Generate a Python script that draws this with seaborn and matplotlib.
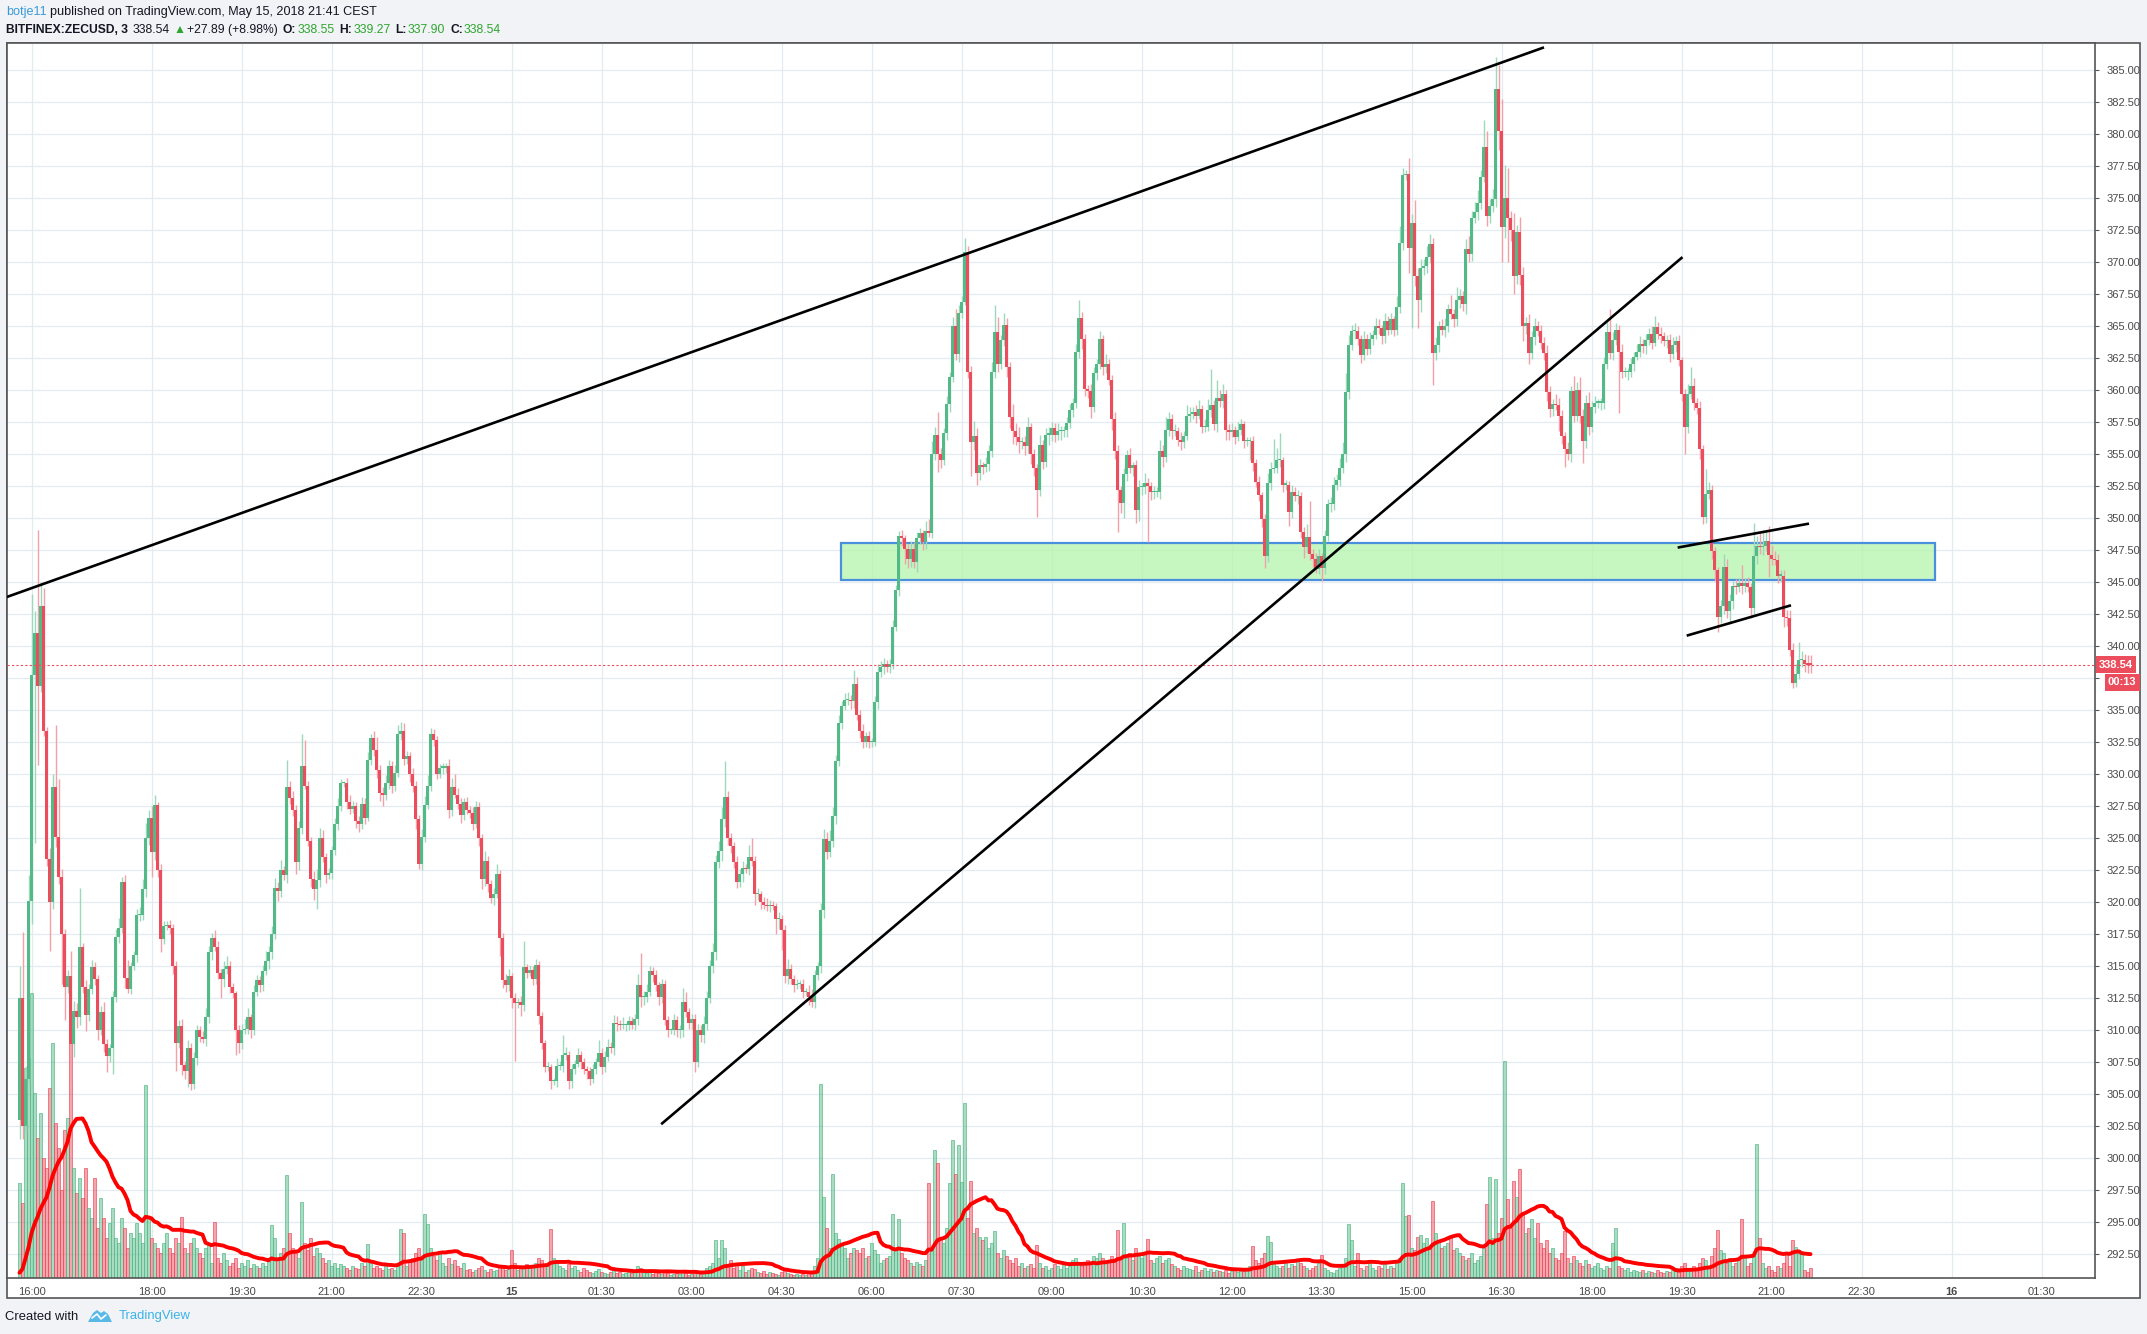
import numpy as np
import pandas as pd
import matplotlib
matplotlib.use("Agg")
import matplotlib.pyplot as plt
import matplotlib.dates as mdates
import matplotlib.patches as mpatches
import matplotlib.transforms as mtransforms
import seaborn as sns

W, H = 2147, 1334

# BITFINEX:ZECUSD, 3 minute candles from 2018-05-14 15:48
first_open = 303.0
closes = [
    312.5, 302.5, 306.2, 320.1, 337.7, 341.0, 336.9, 343.1, 333.4, 323.4,
    320.0, 329.0, 325.1, 322.0, 317.5, 313.4, 314.2, 308.9, 311.5, 311.0,
    316.5, 313.4, 311.2, 313.2, 314.9, 314.0, 310.0, 311.4, 308.9, 308.0,
    308.6, 312.6, 317.3, 318.0, 321.6, 314.1, 313.2, 315.0, 315.9, 319.0,
    319.0, 321.0, 325.0, 326.6, 323.9, 327.6, 322.5, 317.1, 318.1, 318.2,
    318.0, 315.0, 309.0, 310.3, 307.3, 306.8, 308.6, 305.8, 307.8, 310.0,
    309.5, 309.3, 311.0, 316.1, 317.2, 316.5, 314.5, 314.0, 314.8, 315.0,
    313.4, 312.9, 310.0, 309.0, 310.0, 310.1, 311.0, 310.0, 313.0, 313.9,
    313.5, 314.6, 315.4, 316.1, 317.5, 321.1, 320.9, 322.5, 322.1, 329.0,
    328.1, 327.2, 323.1, 325.8, 330.6, 329.1, 324.8, 321.8, 321.0, 321.7,
    325.0, 323.5, 322.1, 322.3, 324.1, 326.1, 327.5, 329.3, 329.3, 327.8,
    327.3, 327.5, 326.3, 326.1, 327.7, 326.6, 331.1, 332.8, 331.9, 330.3,
    328.5, 328.4, 329.3, 330.6, 329.1, 330.1, 333.1, 333.4, 331.2, 331.4,
    330.0, 329.1, 326.5, 323.0, 325.1, 327.6, 329.1, 333.1, 332.7, 330.0,
    330.5, 330.5, 330.6, 327.2, 329.0, 328.4, 327.7, 326.8, 327.8, 327.2,
    327.0, 326.1, 327.4, 325.0, 321.8, 323.2, 321.4, 320.3, 320.6, 322.2,
    317.2, 313.9, 313.5, 314.2, 312.5, 312.1, 312.2, 312.0, 314.9, 314.5,
    314.7, 314.0, 315.1, 311.1, 309.0, 307.1, 307.1, 306.0, 306.0, 307.2,
    307.2, 308.1, 308.1, 306.0, 307.0, 307.4, 308.1, 307.5, 307.0, 306.8,
    306.2, 307.0, 307.5, 308.2, 307.1, 307.9, 308.7, 308.6, 310.6, 310.5,
    310.4, 310.4, 310.4, 310.7, 310.4, 310.9, 313.5, 312.6, 312.6, 313.0,
    314.6, 314.3, 313.5, 312.6, 313.6, 310.8, 310.0, 310.0, 310.8, 310.0,
    310.0, 312.2, 311.4, 310.6, 310.9, 307.5, 310.0, 309.6, 310.5, 312.5,
    315.0, 316.1, 323.1, 324.0, 326.5, 328.2, 325.0, 324.4, 323.1, 321.6,
    322.2, 322.7, 322.6, 323.5, 323.2, 320.6, 320.6, 320.0, 319.8, 319.7,
    319.8, 319.7, 318.7, 318.7, 317.8, 314.2, 314.8, 314.0, 313.5, 313.6,
    313.6, 313.0, 313.0, 312.6, 312.2, 314.3, 315.0, 319.4, 324.9, 323.9,
    324.8, 326.7, 331.0, 334.0, 335.3, 335.8, 335.8, 335.7, 337.0, 334.6,
    333.4, 332.5, 333.0, 332.5, 332.5, 335.6, 338.0, 338.4, 338.6, 338.4,
    338.6, 341.5, 344.4, 348.6, 348.4, 347.6, 346.8, 347.6, 346.6, 348.4,
    348.8, 348.1, 349.0, 348.8, 355.0, 356.5, 355.0, 354.5, 356.6, 358.9,
    361.0, 365.0, 362.8, 366.0, 366.9, 370.8, 361.4, 355.9, 356.4, 353.5,
    354.1, 354.0, 354.2, 355.2, 361.4, 364.5, 362.0, 363.9, 365.1, 361.8,
    357.9, 356.8, 356.3, 355.9, 355.9, 355.6, 357.1, 355.0, 353.9, 352.2,
    355.7, 354.4, 356.5, 356.5, 357.0, 356.5, 356.8, 356.8, 356.9, 357.4,
    358.4, 359.0, 363.0, 365.6, 364.0, 360.1, 359.9, 358.7, 361.3, 362.0,
    364.0, 361.8, 362.0, 360.8, 357.7, 355.2, 352.2, 351.2, 353.4, 354.9,
    353.9, 354.1, 350.6, 352.4, 352.4, 352.7, 352.5, 352.0, 352.0, 352.0,
    355.2, 354.8, 356.9, 357.7, 356.8, 356.8, 356.1, 355.9, 356.4, 358.0,
    358.1, 358.3, 358.0, 358.5, 357.1, 357.1, 358.4, 358.8, 357.3, 359.4,
    359.1, 359.7, 356.9, 356.7, 356.9, 356.3, 356.9, 357.3, 356.0, 356.0,
    356.0, 354.3, 352.8, 351.8, 349.9, 347.0, 352.7, 353.8, 353.9, 354.5,
    354.5, 352.6, 352.6, 350.5, 352.0, 351.7, 351.7, 348.9, 347.7, 348.5,
    347.2, 346.8, 346.0, 347.0, 346.1, 348.6, 351.1, 351.1, 352.6, 353.0,
    353.9, 355.0, 359.8, 363.5, 364.6, 364.6, 364.0, 362.7, 364.0, 363.2,
    364.0, 364.3, 365.0, 364.8, 364.2, 365.4, 364.7, 365.5, 364.7, 366.5,
    371.5, 376.8, 376.9, 371.1, 373.0, 368.9, 367.0, 369.5, 369.7, 370.4,
    371.4, 362.9, 363.5, 365.0, 364.7, 365.0, 366.3, 365.9, 365.5, 367.0,
    367.3, 366.7, 371.0, 370.6, 373.4, 373.9, 374.6, 376.6, 379.0, 373.6,
    374.4, 374.9, 383.5, 380.2, 372.7, 375.0, 373.4, 372.5, 368.9, 372.3,
    369.0, 365.0, 365.2, 362.9, 364.1, 365.0, 364.6, 363.7, 362.9, 359.8,
    358.5, 358.9, 358.8, 358.0, 356.4, 355.4, 355.0, 359.9, 358.0, 360.0,
    358.0, 356.0, 359.0, 357.1, 358.7, 359.0, 359.0, 359.0, 362.0, 364.5,
    362.9, 363.9, 364.7, 363.0, 361.4, 361.4, 361.4, 362.0, 362.6, 363.0,
    363.6, 363.4, 363.9, 364.4, 363.7, 364.9, 364.4, 364.2, 363.8, 363.9,
    362.8, 363.5, 363.8, 362.3, 359.7, 357.1, 359.7, 360.3, 359.0, 358.6,
    355.4, 350.1, 351.9, 352.2, 347.4, 345.9, 342.3, 343.1, 346.2, 342.7,
    343.5, 344.7, 344.6, 344.9, 344.7, 344.9, 344.6, 343.0, 347.0, 347.8,
    347.7, 347.8, 348.2, 347.1, 346.8, 346.7, 345.5, 345.5, 342.3, 342.2,
    339.7, 337.1, 337.8, 338.9, 338.9, 338.6, 338.55, 338.54,
]

# wick length above / below the candle body
wick_hi = [
    2.5, 5.2, 1.0, 2.0, 6.4, 1.7, 8.1, 1.9, 1.4, 0.3,
    0.8, 1.0, 4.8, 4.5, 0.6, 0.4, 0.5, 2.0, 0.8, 0.6,
    4.6, 0.3, 0.5, 0.4, 0.6, 0.4, 0.3, 0.5, 0.8, 0.4,
    0.3, 0.5, 0.6, 0.8, 0.4, 0.5, 1.4, 0.3, 0.3, 0.5,
    0.6, 0.8, 1.2, 0.6, 0.9, 0.8, 0.2, 0.5, 0.4, 0.3,
    0.4, 0.3, 0.4, 0.5, 0.6, 0.3, 0.6, 0.4, 0.5, 0.4,
    0.3, 0.4, 0.7, 0.5, 0.4, 0.6, 0.5, 0.3, 0.6, 0.8,
    0.4, 0.3, 0.2, 0.4, 0.5, 0.8, 0.7, 0.3, 0.5, 0.4,
    0.3, 0.5, 0.8, 0.5, 0.6, 0.8, 0.5, 0.8, 0.3, 2.1,
    0.5, 0.6, 0.4, 0.5, 2.5, 2.1, 0.4, 0.3, 0.6, 0.9,
    0.8, 0.6, 0.3, 0.4, 0.3, 0.5, 0.6, 0.3, 0.2, 0.4,
    0.6, 0.4, 0.3, 0.4, 0.5, 0.4, 0.6, 0.3, 0.6, 1.0,
    0.4, 0.5, 0.6, 0.5, 0.4, 0.6, 0.7, 0.7, 0.6, 0.4,
    0.3, 0.5, 0.4, 0.3, 0.6, 0.7, 0.8, 0.5, 0.4, 0.3,
    0.3, 0.4, 0.3, 0.6, 0.7, 1.0, 0.5, 0.4, 0.3, 0.4,
    0.3, 0.4, 0.5, 0.4, 0.3, 0.8, 0.4, 0.3, 0.5, 0.8,
    0.3, 0.4, 0.5, 0.6, 0.3, 0.4, 0.3, 0.5, 2.1, 0.3,
    0.4, 0.3, 0.5, 0.3, 0.3, 0.2, 0.4, 0.3, 0.3, 0.6,
    0.4, 1.5, 0.6, 0.3, 0.4, 0.3, 0.5, 0.3, 0.3, 0.2,
    0.3, 0.4, 0.3, 1.0, 0.4, 0.5, 0.6, 0.4, 0.6, 0.5,
    0.3, 0.6, 0.2, 0.4, 0.3, 0.4, 0.9, 2.5, 0.5, 0.6,
    0.4, 0.3, 0.4, 0.3, 0.4, 0.3, 0.3, 0.2, 0.5, 0.3,
    0.4, 1.1, 0.8, 0.3, 0.4, 0.4, 0.5, 0.4, 0.6, 0.6,
    0.5, 0.7, 0.6, 0.8, 0.9, 2.8, 0.5, 0.4, 0.3, 0.5,
    0.4, 0.5, 0.3, 1.0, 1.5, 0.4, 0.5, 0.3, 0.4, 0.5,
    0.4, 0.3, 0.2, 0.5, 0.3, 0.4, 0.8, 0.4, 0.3, 0.4,
    0.3, 0.4, 0.3, 0.5, 0.6, 0.4, 0.3, 0.5, 0.8, 0.6,
    0.8, 0.7, 0.5, 0.6, 0.4, 0.5, 0.6, 0.4, 1.1, 0.6,
    0.4, 0.5, 0.3, 0.4, 0.3, 0.5, 0.6, 0.4, 0.5, 0.3,
    0.4, 0.5, 0.4, 0.4, 0.5, 0.3, 0.4, 0.6, 0.5, 0.5,
    0.4, 0.3, 0.8, 0.9, 1.0, 0.6, 1.8, 0.5, 0.4, 0.6,
    0.4, 0.7, 1.3, 0.6, 0.4, 1.1, 0.4, 0.5, 1.2, 0.6,
    0.5, 0.3, 0.6, 0.5, 0.8, 2.1, 1.2, 0.4, 0.9, 0.5,
    0.4, 1.0, 0.6, 0.8, 0.4, 0.5, 0.8, 0.3, 0.4, 0.3,
    0.8, 0.4, 0.5, 0.6, 0.5, 0.4, 0.6, 0.4, 0.3, 0.5,
    0.5, 0.4, 0.6, 1.4, 0.5, 0.4, 0.3, 0.6, 0.5, 0.4,
    0.6, 0.3, 0.8, 0.4, 0.4, 0.6, 0.5, 0.3, 0.5, 0.4,
    0.6, 0.3, 0.4, 0.6, 0.3, 0.8, 0.4, 0.3, 0.5, 0.4,
    0.9, 0.5, 1.0, 0.6, 0.4, 0.5, 0.3, 0.6, 0.4, 0.8,
    0.6, 0.4, 0.5, 0.7, 0.3, 0.6, 0.9, 2.8, 0.4, 1.4,
    0.6, 0.8, 0.3, 0.4, 0.5, 0.3, 0.6, 0.4, 0.3, 0.3,
    0.3, 0.4, 0.3, 0.5, 0.2, 0.4, 0.8, 0.6, 2.3, 1.0,
    2.1, 0.3, 0.4, 0.3, 0.6, 0.4, 0.5, 0.3, 0.4, 1.0,
    2.8, 0.4, 0.5, 0.6, 0.3, 0.5, 0.4, 0.5, 0.6, 0.4,
    0.8, 0.9, 1.5, 0.8, 0.5, 0.6, 0.4, 0.3, 0.6, 0.4,
    0.5, 0.4, 0.6, 0.5, 0.3, 0.6, 0.4, 0.5, 0.3, 0.8,
    1.3, 0.5, 0.3, 1.2, 0.7, 1.8, 0.6, 0.7, 0.5, 0.8,
    0.8, 0.5, 0.6, 0.4, 0.5, 0.6, 0.4, 1.1, 0.4, 1.0,
    0.6, 0.4, 0.8, 1.0, 0.6, 0.8, 1.0, 0.6, 2.1, 1.2,
    0.5, 0.8, 2.5, 1.9, 2.5, 2.6, 2.3, 0.6, 1.3, 0.6,
    1.2, 0.6, 0.5, 0.7, 0.5, 0.6, 0.4, 0.5, 0.4, 0.6,
    0.5, 0.4, 0.8, 0.6, 0.4, 0.3, 0.5, 0.4, 1.2, 0.6,
    1.0, 0.5, 0.6, 0.8, 0.4, 0.5, 0.3, 0.4, 0.6, 0.8,
    1.8, 0.6, 0.5, 0.4, 0.6, 0.4, 0.3, 0.5, 0.4, 0.6,
    0.6, 0.4, 0.5, 0.4, 0.6, 0.9, 0.4, 0.5, 0.3, 0.4,
    0.5, 0.6, 0.4, 0.5, 0.3, 0.4, 0.8, 1.5, 0.6, 0.4,
    0.5, 0.3, 1.9, 0.6, 0.4, 0.3, 0.3, 0.5, 1.0, 0.6,
    0.6, 0.4, 0.5, 0.4, 1.4, 0.4, 0.5, 0.3, 2.6, 0.8,
    1.0, 1.3, 0.9, 1.2, 0.8, 0.6, 0.5, 0.4, 0.4, 0.5,
    0.6, 0.5, 0.8, 1.4, 0.7, 0.5, 0.7, 0.72,
]
wick_lo = [
    1.5, 1.0, 0.5, 0.5, 1.8, 13.1, 6.2, 0.5, 0.4, 0.6,
    3.8, 0.5, 0.8, 0.6, 3.9, 2.6, 0.5, 2.9, 1.0, 0.8,
    0.6, 0.5, 1.3, 0.5, 0.4, 0.5, 0.8, 0.4, 0.6, 1.3,
    0.5, 2.0, 0.4, 0.5, 0.4, 0.8, 0.3, 0.4, 0.3, 0.6,
    0.5, 0.4, 0.6, 0.5, 1.9, 0.6, 0.5, 1.0, 0.4, 0.3,
    0.5, 0.6, 2.2, 0.4, 0.8, 0.6, 1.2, 0.5, 0.4, 0.5,
    0.4, 0.3, 0.5, 0.4, 0.6, 0.3, 0.5, 1.5, 0.6, 0.4,
    0.5, 0.4, 1.9, 0.8, 0.5, 0.3, 0.4, 0.6, 0.4, 0.3,
    0.5, 0.4, 0.3, 0.6, 0.5, 0.4, 0.8, 0.5, 0.4, 0.6,
    0.4, 0.5, 0.9, 0.6, 0.5, 0.3, 0.4, 0.6, 0.8, 1.5,
    0.5, 0.4, 0.6, 0.3, 0.5, 0.4, 0.5, 0.4, 0.3, 0.5,
    0.4, 0.3, 0.5, 0.6, 0.4, 0.5, 0.3, 0.4, 0.5, 0.6,
    0.6, 0.9, 0.4, 0.5, 0.6, 0.4, 0.3, 0.4, 0.5, 0.4,
    0.6, 0.5, 0.8, 0.4, 0.5, 0.4, 0.3, 0.4, 0.5, 0.4,
    0.3, 0.5, 0.4, 0.6, 0.5, 0.3, 0.4, 0.6, 0.4, 0.3,
    0.4, 0.5, 0.3, 0.6, 0.8, 0.5, 0.6, 0.4, 0.5, 0.3,
    1.4, 0.6, 0.5, 0.4, 0.8, 4.5, 0.4, 0.9, 0.5, 0.4,
    0.3, 0.5, 0.4, 0.6, 0.5, 0.4, 0.3, 0.6, 0.3, 0.4,
    0.3, 0.5, 0.4, 0.6, 0.5, 0.4, 0.3, 0.5, 0.4, 0.6,
    0.5, 0.3, 0.4, 0.3, 0.5, 0.4, 0.3, 0.4, 0.5, 0.6,
    0.4, 0.3, 0.5, 0.4, 0.3, 0.4, 0.5, 0.8, 0.6, 0.4,
    0.3, 0.5, 0.4, 0.6, 0.5, 0.4, 0.5, 0.3, 0.4, 0.5,
    0.6, 0.5, 0.4, 0.5, 0.6, 0.8, 0.4, 0.5, 0.6, 0.5,
    0.4, 0.5, 0.6, 0.4, 0.8, 0.6, 0.5, 0.6, 0.4, 0.5,
    0.4, 0.6, 0.3, 0.5, 0.4, 0.8, 0.4, 0.5, 0.3, 0.4,
    0.5, 0.3, 1.2, 0.8, 1.5, 0.5, 0.6, 0.4, 0.5, 0.3,
    0.4, 0.5, 0.3, 0.6, 0.4, 0.5, 0.4, 0.5, 0.6, 0.5,
    0.4, 0.5, 0.6, 0.4, 0.5, 0.3, 0.4, 0.6, 0.5, 0.4,
    0.6, 0.5, 0.4, 0.5, 0.4, 0.3, 0.5, 0.4, 0.6, 0.4,
    0.5, 0.4, 0.3, 0.5, 0.6, 1.2, 0.7, 0.6, 0.5, 0.8,
    0.4, 0.6, 0.5, 0.3, 0.4, 0.5, 1.4, 0.6, 0.4, 0.5,
    0.6, 0.4, 0.5, 0.6, 0.4, 0.3, 0.5, 2.6, 0.6, 0.9,
    0.5, 0.6, 0.4, 0.5, 0.4, 0.5, 0.6, 0.4, 0.5, 0.8,
    0.9, 1.0, 0.6, 0.8, 0.5, 0.7, 0.5, 0.8, 0.6, 2.1,
    0.5, 0.6, 0.4, 0.8, 0.5, 0.6, 0.4, 0.7, 0.5, 0.6,
    0.4, 0.5, 0.4, 0.5, 0.8, 0.6, 0.5, 0.9, 0.4, 0.5,
    0.4, 0.6, 0.5, 0.4, 0.8, 0.6, 3.3, 0.8, 1.2, 0.5,
    0.4, 0.6, 1.0, 0.8, 0.6, 0.5, 4.4, 0.6, 0.5, 0.4,
    0.5, 0.8, 0.4, 0.5, 0.6, 0.4, 0.5, 0.6, 0.4, 0.3,
    0.5, 0.4, 0.6, 0.3, 0.5, 0.4, 0.3, 0.5, 0.4, 0.6,
    0.4, 0.5, 0.8, 0.6, 0.4, 0.5, 0.3, 0.4, 0.5, 0.4,
    1.5, 0.6, 0.4, 0.5, 0.6, 0.9, 0.4, 0.5, 0.3, 0.4,
    0.5, 0.6, 0.4, 1.1, 0.5, 0.4, 0.6, 0.5, 0.8, 0.4,
    0.5, 0.6, 0.3, 0.4, 1.0, 0.5, 0.4, 0.6, 0.5, 0.4,
    0.5, 0.4, 0.6, 0.5, 0.4, 0.6, 0.5, 0.6, 0.4, 0.5,
    0.4, 0.5, 0.3, 0.4, 0.6, 0.5, 0.4, 0.3, 0.5, 0.4,
    0.5, 0.6, 0.4, 2.0, 6.3, 0.8, 2.2, 0.9, 0.5, 0.6,
    0.5, 2.5, 0.6, 0.5, 0.4, 0.6, 0.5, 0.4, 0.6, 0.5,
    0.6, 0.5, 0.8, 0.6, 0.5, 0.4, 0.6, 0.5, 0.4, 0.8,
    0.6, 0.5, 0.6, 1.5, 2.7, 0.8, 3.4, 0.9, 1.4, 0.6,
    0.8, 1.2, 0.6, 0.9, 0.5, 0.6, 0.4, 0.5, 0.6, 0.7,
    0.6, 0.5, 0.4, 1.2, 0.6, 1.4, 0.5, 0.6, 0.5, 0.4,
    0.6, 1.7, 0.5, 0.6, 0.4, 0.5, 0.4, 0.6, 0.5, 0.4,
    0.5, 0.6, 0.4, 4.8, 0.5, 0.4, 0.6, 0.4, 0.5, 0.3,
    0.4, 0.5, 0.6, 0.4, 0.5, 0.3, 0.4, 0.5, 0.4, 0.5,
    0.6, 0.4, 0.5, 0.4, 0.6, 2.1, 0.5, 0.4, 0.6, 0.5,
    0.8, 0.6, 0.5, 0.4, 0.6, 0.8, 1.2, 0.5, 0.6, 0.5,
    1.0, 0.6, 0.5, 0.4, 0.6, 0.5, 0.4, 0.8, 0.5, 0.6,
    0.5, 0.6, 0.4, 1.7, 0.5, 0.4, 0.6, 0.5, 0.8, 0.6,
    0.5, 0.4, 0.3, 0.4, 0.5, 0.6, 0.65, 0.64,
]

# volume per candle (relative units)
volumes = [
    95, 75, 210, 220, 285, 185, 140, 165, 120, 110, 190, 235, 155, 130, 88, 148, 160, 265, 110, 85,
    100, 80, 110, 70, 60, 100, 50, 80, 60, 40, 55, 70, 40, 35, 60, 50, 30, 45, 40, 55,
    45, 35, 193, 60, 40, 35, 30, 25, 35, 45, 30, 25, 40, 35, 61, 30, 25, 35, 40, 30,
    25, 20, 30, 35, 15, 56, 20, 15, 25, 18, 12, 15, 20, 10, 15, 12, 18, 10, 14, 12,
    10, 15, 12, 20, 53, 40, 18, 25, 30, 103, 45, 30, 25, 20, 76, 35, 28, 40, 22, 30,
    25, 20, 15, 18, 12, 15, 10, 14, 12, 10, 8, 12, 10, 9, 15, 12, 34, 18, 10, 12,
    10, 8, 12, 9, 10, 8, 15, 49, 45, 12, 18, 20, 25, 30, 20, 64, 54, 30, 22, 18,
    25, 15, 12, 20, 14, 18, 12, 10, 15, 8, 9, 6, 8, 10, 12, 8, 6, 9, 7, 8,
    12, 10, 8, 9, 28, 15, 8, 10, 12, 14, 10, 12, 15, 20, 18, 14, 12, 49, 20, 15,
    12, 10, 8, 14, 10, 12, 8, 6, 10, 8, 6, 5, 7, 9, 6, 5, 4, 6, 8, 5,
    6, 4, 5, 7, 5, 6, 12, 10, 6, 5, 8, 4, 6, 5, 4, 7, 5, 3, 4, 5,
    4, 6, 5, 3, 4, 8, 5, 4, 6, 10, 12, 15, 38, 20, 38, 30, 12, 18, 10, 14,
    8, 12, 6, 8, 10, 9, 6, 5, 7, 4, 6, 5, 4, 3, 6, 8, 5, 4, 3, 4,
    3, 4, 3, 5, 6, 12, 20, 194, 81, 50, 30, 104, 45, 39, 35, 30, 20, 25, 30, 28,
    25, 30, 20, 22, 35, 28, 24, 15, 18, 20, 22, 64, 30, 59, 25, 20, 18, 15, 12, 16,
    14, 12, 18, 95, 30, 128, 115, 40, 35, 50, 95, 138, 104, 133, 96, 175, 60, 97, 45, 50,
    41, 38, 41, 30, 35, 47, 25, 20, 28, 22, 18, 15, 20, 12, 15, 10, 12, 14, 10, 33,
    15, 10, 12, 8, 10, 14, 12, 9, 15, 10, 12, 18, 20, 15, 12, 14, 18, 16, 22, 20,
    25, 20, 15, 18, 22, 18, 48, 20, 55, 20, 25, 18, 30, 22, 20, 25, 39, 18, 15, 20,
    22, 15, 18, 20, 14, 12, 10, 8, 12, 10, 9, 8, 12, 6, 8, 10, 7, 9, 6, 8,
    7, 6, 8, 5, 7, 9, 6, 8, 7, 10, 12, 32, 18, 15, 20, 25, 42, 36, 15, 12,
    10, 12, 15, 10, 14, 12, 18, 15, 12, 10, 8, 10, 12, 15, 23, 10, 8, 6, 5, 8,
    10, 12, 20, 54, 38, 12, 25, 10, 8, 12, 15, 10, 8, 12, 10, 14, 9, 12, 10, 15,
    20, 95, 62, 63, 30, 28, 41, 43, 35, 40, 30, 77, 45, 38, 30, 32, 35, 40, 28, 30,
    25, 22, 18, 20, 25, 15, 18, 22, 30, 74, 101, 40, 99, 45, 60, 217, 79, 50, 97, 81,
    109, 66, 45, 50, 59, 40, 55, 35, 30, 38, 25, 30, 20, 18, 25, 47, 20, 15, 22, 18,
    15, 12, 18, 14, 10, 12, 15, 10, 8, 12, 10, 35, 50, 12, 10, 8, 10, 6, 8, 7,
    6, 8, 5, 7, 6, 5, 8, 6, 5, 7, 6, 8, 10, 6, 12, 15, 10, 8, 12, 10,
    15, 20, 18, 12, 22, 30, 48, 28, 25, 15, 20, 12, 15, 18, 59, 20, 12, 15, 22, 134,
    40, 15, 10, 12, 8, 6, 12, 10, 15, 25, 12, 38, 31, 28, 25, 8, 6, 10,
]

tick_times = [
    "2018-05-14 16:00", "2018-05-14 18:00", "2018-05-14 19:30", "2018-05-14 21:00",
    "2018-05-14 22:30", "2018-05-15 00:00", "2018-05-15 01:30", "2018-05-15 03:00",
    "2018-05-15 04:30", "2018-05-15 06:00", "2018-05-15 07:30", "2018-05-15 09:00",
    "2018-05-15 10:30", "2018-05-15 12:00", "2018-05-15 13:30", "2018-05-15 15:00",
    "2018-05-15 16:30", "2018-05-15 18:00", "2018-05-15 19:30", "2018-05-15 21:00",
    "2018-05-15 22:30", "2018-05-16 00:00", "2018-05-16 01:30",
]
tick_labels = [
    "16:00", "18:00", "19:30", "21:00", "22:30", "15", "01:30", "03:00", "04:30",
    "06:00", "07:30", "09:00", "10:30", "12:00", "13:30", "15:00", "16:30", "18:00",
    "19:30", "21:00", "22:30", "16", "01:30",
]

# drawings on the chart: trend lines and the support zone
trend_lines = [
    ("2018-05-14 15:35:18", 343.83, "2018-05-15 17:12:30", 386.75),
    ("2018-05-15 02:29:40", 302.66, "2018-05-15 19:31:00", 370.37),
    ("2018-05-15 19:26:10", 347.69, "2018-05-15 21:37:30", 349.56),
    ("2018-05-15 19:35:10", 340.81, "2018-05-15 21:19:30", 343.18),
]
zone_start, zone_end = "2018-05-15 05:29", "2018-05-15 23:43"
zone_low, zone_high = 345.15, 348.05

GREEN, RED = "#53b987", "#eb4d5c"
TXT = "#131722"

sns.set_style("white")
plt.rcParams["font.family"] = ["Liberation Sans", "DejaVu Sans"]

c = np.array(closes)
o = np.r_[first_open, c[:-1]]
hi = np.maximum(o, c) + np.array(wick_hi)
lo = np.minimum(o, c) - np.array(wick_lo)
up = c >= o
times = pd.date_range("2018-05-14 15:48", periods=len(c), freq="3min")
x = mdates.date2num(times)
day_min = 1 / 1440

fig = plt.figure(figsize=(W / 100, H / 100), dpi=100, facecolor="#f1f3f6")
frame = mpatches.Rectangle((7 / W, 1 - 1298 / H), (2140 - 7) / W, (1298 - 42.5) / H,
                           transform=fig.transFigure, fc="white", ec="#555555", lw=1.2, zorder=-1)
fig.patches.append(frame)

ax = fig.add_axes([7 / W, 1 - 1277.5 / H, (2095 - 7) / W, (1277.5 - 42.5) / H])
ax.set_facecolor("white")
plot_h = 1235.0

# volume, drawn in axis-height units at the bottom of the price pane
vtrans = mtransforms.blended_transform_factory(ax.transData, ax.transAxes)
vol = np.array(volumes, dtype=float)
vol_face = [(0.33, 0.73, 0.53, 0.5) if u else (0.92, 0.30, 0.36, 0.5) for u in up]
vol_edge = [(0.33, 0.73, 0.53, 0.8) if u else (0.92, 0.30, 0.36, 0.8) for u in up]
ax.bar(x, vol / plot_h, width=2.3 * day_min, color=vol_face, edgecolor=vol_edge,
       linewidth=0.6, transform=vtrans, zorder=1)
vol_ma = pd.Series(vol).rolling(20, min_periods=1).sum() / 20
sns.lineplot(x=x, y=vol_ma.values / plot_h, ax=ax, color="#ff0000", linewidth=2.8,
             transform=vtrans, zorder=2)

# support zone
x0, x1 = mdates.date2num(pd.to_datetime([zone_start, zone_end]))
ax.add_patch(mpatches.Rectangle((x0, zone_low), x1 - x0, zone_high - zone_low,
                                fc=(0.70, 0.96, 0.67, 0.75), ec="#4a8fdc", lw=1.6, zorder=2.5))

# candles
ax.vlines(x, lo, hi, colors=np.where(up, "#9ed8bc", "#f3a1a9"), lw=1.0, zorder=3)
ax.bar(x, np.maximum(np.abs(c - o), 0.1), bottom=np.minimum(o, c), width=2.2 * day_min,
       color=np.where(up, GREEN, RED), linewidth=0, zorder=4)

for t0, p0, t1, p1 in trend_lines:
    xs = mdates.date2num(pd.to_datetime([t0, t1]))
    ax.plot(xs, [p0, p1], color="black", lw=1.9, solid_capstyle="butt", zorder=6)

last = c[-1]
ax.axhline(last, color=RED, lw=0.8, ls=(0, (2, 2)), zorder=5)

ax.set_xlim(mdates.date2num(pd.Timestamp("2018-05-14 15:35:30")),
            mdates.date2num(pd.Timestamp("2018-05-16 02:23:30")))
ax.set_ylim(290.69, 387.13)
ax.set_xlabel("")
ax.set_ylabel("")

price_ticks = np.arange(292.5, 385.1, 2.5)
ax.yaxis.tick_right()
ax.set_yticks(price_ticks)
ax.set_yticklabels([f"{v:.2f}" for v in price_ticks])
ax.set_xticks(mdates.date2num(pd.to_datetime(tick_times)))
ax.set_xticklabels(tick_labels)
for lab in ax.get_xticklabels():
    if lab.get_text() in ("15", "16"):
        lab.set_fontweight("bold")
ax.tick_params(axis="y", length=3, pad=5, labelsize=8, color="#555555", labelcolor="#4a4a4a")
ax.tick_params(axis="x", length=4, pad=3, labelsize=8, color="#555555", labelcolor="#4a4a4a")
ax.grid(True, color="#e3ebf1", lw=0.9)
ax.set_axisbelow(True)
for s in ax.spines.values():
    s.set_color("#555555")
    s.set_linewidth(1.2)

# last price tags on the price scale
ytrans = mtransforms.blended_transform_factory(ax.transAxes, ax.transData)
ax.annotate(f"{last:.2f}", xy=(1.0, last), xycoords=ytrans, xytext=(4, 0),
            textcoords="offset pixels", ha="left", va="center", fontsize=8, fontweight="bold",
            color="white", bbox=dict(boxstyle="square,pad=0.3", fc=RED, ec="none"))
ax.annotate("00:13", xy=(1.0, last), xycoords=ytrans, xytext=(13, -17.5),
            textcoords="offset pixels", ha="left", va="center", fontsize=8, fontweight="bold",
            color="white", bbox=dict(boxstyle="square,pad=0.3", fc=RED, ec="none"))

# header and footer text
renderer = fig.canvas.get_renderer()


def text_run(xp, yp, parts, size):
    for s, col, wt, gap in parts:
        t = fig.text(xp / W, 1 - yp / H, s, color=col, fontsize=size, fontweight=wt,
                     ha="left", va="center")
        xp += t.get_window_extent(renderer).width + gap


TV_GREEN = "#2fa52f"
text_run(6, 12, [("botje11", "#3a9ad9", "normal", 3),
                 ("published on TradingView.com, May 15, 2018 21:41 CEST", TXT, "normal", 0)], 9.1)
text_run(6, 30, [("BITFINEX:ZECUSD, 3", TXT, "bold", 5),
                 (f"{last:.2f}", TXT, "normal", 3),
                 ("\u25b2", TV_GREEN, "normal", 2),
                 ("+27.89 (+8.98%)", TXT, "normal", 5),
                 ("O:", TXT, "bold", 1), (f"{o[-1]:.2f}", TV_GREEN, "normal", 5),
                 ("H:", TXT, "bold", 1), (f"{hi[-1]:.2f}", TV_GREEN, "normal", 5),
                 ("L:", TXT, "bold", 1), (f"{lo[-1]:.2f}", TV_GREEN, "normal", 5),
                 ("C:", TXT, "bold", 1), (f"{last:.2f}", TV_GREEN, "normal", 0)], 8.7)

fig.text(5 / W, 1 - 1316.5 / H, "Created with", color=TXT, fontsize=9.4, ha="left", va="center")
logo = [(88, 1322), (93, 1313), (97, 1310), (101, 1313), (104, 1311), (108, 1314),
        (112, 1322)]
fig.patches.append(mpatches.Polygon([(px / W, 1 - py / H) for px, py in logo], closed=True,
                                    transform=fig.transFigure, fc="#58b9e6", ec="none"))
fig.lines.append(plt.Line2D([92 / W, 97 / W, 101 / W, 106 / W], [1 - 1318 / H, 1 - 1314 / H,
                            1 - 1319 / H, 1 - 1315 / H], transform=fig.transFigure,
                            color="white", lw=1.2))
fig.text(119 / W, 1 - 1316.5 / H, "TradingView", color="#3bb3e8", fontsize=9.4, ha="left",
         va="center")

fig.savefig("out.png", dpi=100, facecolor=fig.get_facecolor())
